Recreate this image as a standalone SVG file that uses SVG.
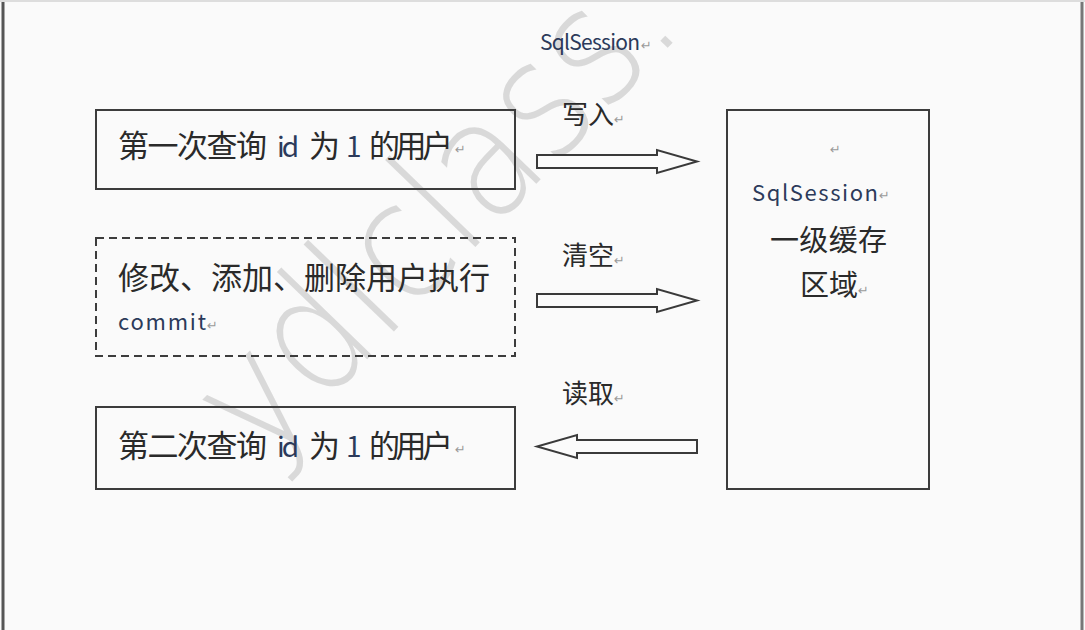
<svg xmlns="http://www.w3.org/2000/svg" width="1085" height="630" viewBox="0 0 1085 630">
<defs>
<style>
.bg{fill:#fafafa}
.box{fill:none;stroke:#3c3c3c;stroke-width:2}
.dash{stroke-dasharray:8 5}
.cj{font-family:"Noto Sans CJK SC","Liberation Sans",sans-serif;fill:#2a2a2a}
.en{font-family:"Noto Sans CJK SC","Liberation Sans",sans-serif;fill:#2c3a5a}
.ret{font-family:"DejaVu Sans",sans-serif;fill:#9a9a9a;font-size:13px}
.arrow{fill:#fbfbfb;stroke:#3a3a3a;stroke-width:2;stroke-linejoin:miter}
.wm{font-family:"DejaVu Sans ExtraLight","DejaVu Sans",sans-serif;font-weight:200;font-size:165px;fill:#d4d4d4;opacity:0.85}
</style>
</defs>
<rect class="bg" x="0" y="0" width="1085" height="630"/>
<g id="frame">
<line x1="3" y1="0" x2="3" y2="630" stroke="#555" stroke-width="3"/>
<line x1="1082" y1="0" x2="1082" y2="630" stroke="#777" stroke-width="3"/>
<line x1="0" y1="1" x2="1085" y2="1" stroke="#ddd" stroke-width="2"/>
</g>
<g id="watermark">
<text class="wm" transform="translate(262,468) rotate(-46)" textLength="610" lengthAdjust="spacingAndGlyphs">ydlclass.</text>
</g>
<g id="title">
<text class="en" x="540" y="50" font-size="21" textLength="100">SqlSession</text>
<text class="ret" x="641" y="50">↵</text>
</g>
<g id="node-first-query">
<rect class="box" x="96" y="110" width="419" height="79"/>
<text class="cj" y="157" font-size="31"><tspan x="118" textLength="149">第一次查询</tspan><tspan class="en" x="277" font-size="28" textLength="22">id</tspan><tspan x="309" textLength="30">为</tspan><tspan class="en" x="346" font-size="28">1</tspan><tspan x="369" textLength="84">的用户</tspan><tspan class="ret" x="455" dy="-3">↵</tspan></text>
</g>
<g id="node-modify">
<rect class="box dash" x="96" y="238" width="419" height="118"/>
<text class="cj" x="118" y="289" font-size="31" textLength="372">修改、添加、删除用户执行</text>
<text class="en" x="118" y="330" font-size="22" textLength="88">commit</text>
<text class="ret" x="207" y="330">↵</text>
</g>
<g id="node-second-query">
<rect class="box" x="96" y="407" width="419" height="82"/>
<text class="cj" y="457" font-size="31"><tspan x="118" textLength="149">第二次查询</tspan><tspan class="en" x="277" font-size="28" textLength="22">id</tspan><tspan x="309" textLength="30">为</tspan><tspan class="en" x="346" font-size="28">1</tspan><tspan x="369" textLength="84">的用户</tspan><tspan class="ret" x="455" dy="-3">↵</tspan></text>
</g>
<g id="node-cache">
<rect class="box" x="727" y="110" width="202" height="379"/>
<text class="ret" x="830" y="154">↵</text>
<text class="en" x="752" y="201" font-size="22" textLength="126">SqlSession</text>
<text class="ret" x="879" y="200">↵</text>
<text class="cj" x="770" y="251" font-size="29" textLength="117">一级缓存</text>
<text class="cj" x="800" y="296" font-size="29" textLength="58">区域</text>
<text class="ret" x="858" y="295">↵</text>
</g>
<g id="connectors">
<path class="arrow" d="M537,155 H657 V150 L697,161.5 L657,173 V168 H537 Z"/>
<path class="arrow" d="M537,294 H657 V289 L697,300.5 L657,312 V307 H537 Z"/>
<path class="arrow" d="M697,440 H577 V435 L537,446.5 L577,458 V453 H697 Z"/>
<text class="cj" x="562" y="124" font-size="26">写入<tspan class="ret">↵</tspan></text>
<text class="cj" x="562" y="265" font-size="26">清空<tspan class="ret">↵</tspan></text>
<text class="cj" x="562" y="403" font-size="26">读取<tspan class="ret">↵</tspan></text>
</g>
</svg>
